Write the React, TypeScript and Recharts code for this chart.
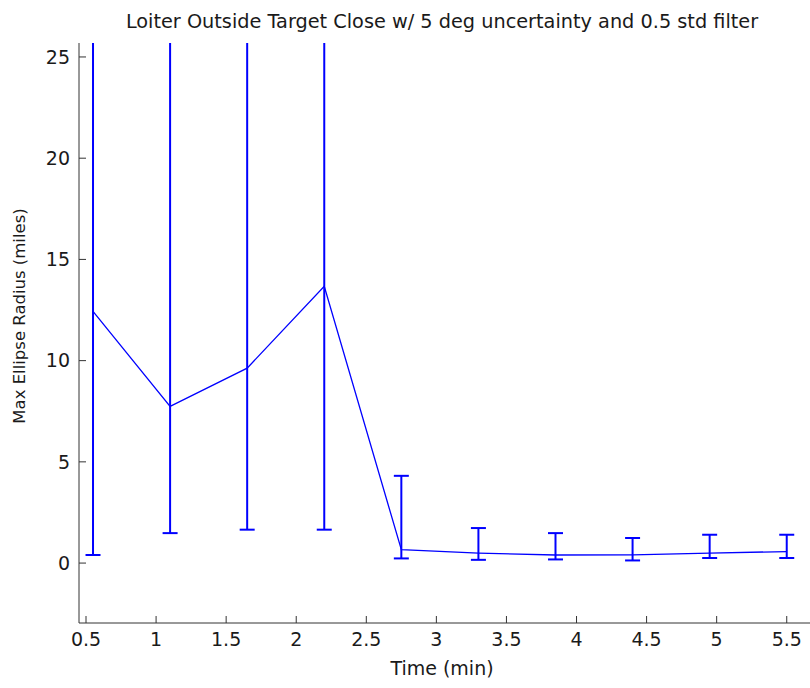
import React from 'react';
import { ComposedChart, Line, XAxis, YAxis, ErrorBar, Label } from 'recharts';

// Time (min)
const times = [0.55, 1.1, 1.65, 2.2, 2.75, 3.3, 3.85, 4.4, 4.95, 5.5];
// Max ellipse radius (miles)
const radius = [12.43, 7.74, 9.63, 13.67, 0.66, 0.49, 0.4, 0.41, 0.49, 0.57];
// lower / upper end of each error bar
const lowerBound = [0.4, 1.48, 1.65, 1.65, 0.23, 0.16, 0.18, 0.13, 0.25, 0.25];
const upperBound = [27, 27, 27, 27, 4.31, 1.73, 1.48, 1.24, 1.4, 1.4];

const xTicks = [0.5, 1, 1.5, 2, 2.5, 3, 3.5, 4, 4.5, 5, 5.5];
const yTicks = [0, 5, 10, 15, 20, 25];

const title = 'Loiter Outside Target Close w/ 5 deg uncertainty and 0.5 std filter';
const xLabel = 'Time (min)';
const yLabel = 'Max Ellipse Radius (miles)';

const data = times.map((t, i) => ({
  t,
  r: radius[i],
  err: [radius[i] - lowerBound[i], upperBound[i] - radius[i]],
}));

const FONT = '"DejaVu Sans", sans-serif';
const AXIS = '#333333';
const TEXT = '#1a1a1a';
const BLUE = '#0000ff';

export default function App() {
  return (
    <div style={{ position: 'absolute', left: 0, top: 0, background: '#fff' }}>
      <style>{'.recharts-errorBars, .recharts-errorBar { clip-path: url(#plotAreaClip); }'}</style>
      <ComposedChart
        width={810}
        height={688}
        data={data}
        margin={{ top: 43, right: 0, bottom: 0, left: 0 }}
        style={{ fontFamily: FONT }}
      >
        <defs>
          <clipPath id="plotAreaClip" clipPathUnits="userSpaceOnUse">
            <rect x={79} y={43} width={731} height={580} />
          </clipPath>
        </defs>
        <XAxis
          type="number"
          dataKey="t"
          domain={[0.45, 5.666]}
          ticks={xTicks}
          allowDataOverflow
          height={65}
          stroke={AXIS}
          tickSize={-7}
          tickMargin={17}
          tick={{ fill: TEXT, fontSize: 19, fontFamily: FONT }}
          interval={0}
        >
          <Label
            content={() => (
              <text
                x={442}
                y={675}
                textAnchor="middle"
                fontSize={19}
                fontFamily={FONT}
                fill={TEXT}
              >
                {xLabel}
              </text>
            )}
          />
        </XAxis>
        <YAxis
          type="number"
          domain={[-2.96, 25.69]}
          ticks={yTicks}
          allowDataOverflow
          width={79}
          stroke={AXIS}
          tickSize={-7}
          tickMargin={16}
          tick={{ fill: TEXT, fontSize: 19, fontFamily: FONT }}
          interval={0}
        >
          <Label
            content={() => (
              <text
                x={24.5}
                y={316}
                transform="rotate(-90 24.5 316)"
                textAnchor="middle"
                fontSize={16.5}
                fontFamily={FONT}
                fill={TEXT}
              >
                {yLabel}
              </text>
            )}
          />
        </YAxis>
        <Line
          type="linear"
          dataKey="r"
          stroke={BLUE}
          strokeWidth={1.3}
          dot={false}
          isAnimationActive={false}
        >
          <ErrorBar dataKey="err" direction="y" width={7.5} stroke={BLUE} strokeWidth={2} />
        </Line>
        <text x={442} y={28} textAnchor="middle" fontSize={19.3} fontFamily={FONT} fill={TEXT}>
          {title}
        </text>
      </ComposedChart>
    </div>
  );
}
